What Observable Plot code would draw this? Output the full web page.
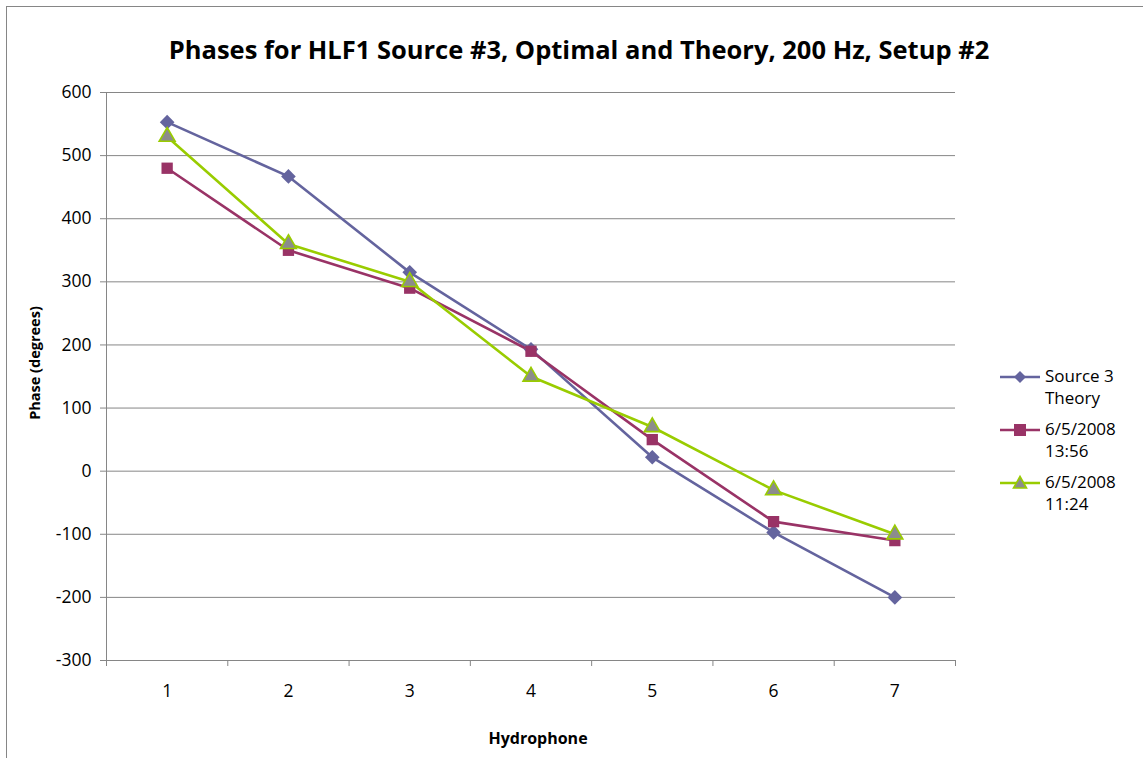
<!DOCTYPE html>
<html><head><meta charset="utf-8">
<script src="https://cdn.jsdelivr.net/npm/d3@7"></script>
<script src="https://cdn.jsdelivr.net/npm/@observablehq/plot@0.6"></script>
<style>
body{margin:0;background:#fff;font-family:"Open Sans",Lato,sans-serif;}
#wrap{position:relative;width:1143px;height:758px;overflow:hidden;}
#frame{position:absolute;left:6px;top:6px;width:1160px;height:780px;border:1px solid #868686;box-sizing:border-box;}
#title{position:absolute;left:579px;top:49px;transform:translate(-50%,-50%);white-space:nowrap;font-weight:bold;font-size:25.5px;color:#000;}
#ylab{position:absolute;left:34px;top:363px;transform:translate(-50%,-50%) rotate(-90deg);font-weight:bold;font-size:14.5px;white-space:nowrap;}
#xlab{position:absolute;left:538px;top:738px;transform:translate(-50%,-50%);font-weight:bold;font-size:16px;white-space:nowrap;}
#legend{position:absolute;left:1000px;top:365px;font-size:17px;color:#000;}
.item{display:flex;align-items:flex-start;margin-bottom:9px;line-height:22px;}
.item svg{margin-right:5px;margin-top:1px;}
svg.plot{position:absolute;left:0;top:0;}
</style></head><body>
<div id="wrap"><div id="frame"></div><div id="title"></div><div id="ylab"></div><div id="xlab"></div><div id="legend"></div></div>
<script>
const hydrophones = [1, 2, 3, 4, 5, 6, 7];
const seriesNames = ["Source 3 Theory", "6/5/2008 13:56", "6/5/2008 11:24"];
const legendLines = [["Source 3", "Theory"], ["6/5/2008", "13:56"], ["6/5/2008", "11:24"]];
const theory = [553, 467, 315, 193, 22, -97, -200];
const run1356 = [480, 350, 290, 190, 50, -80, -110];
const run1124 = [530, 360, 300, 150, 70, -30, -100];
const yTicks = [-300, -200, -100, 0, 100, 200, 300, 400, 500, 600];
const xBounds = [0.5, 1.5, 2.5, 3.5, 4.5, 5.5, 6.5, 7.5];
const titleText = "Phases for HLF1 Source #3, Optimal and Theory, 200 Hz, Setup #2";
const yTitle = "Phase (degrees)";
const xTitle = "Hydrophone";

const colors = ["#64649E", "#993366", "#99CC00"];
const symbols = ["diamond2", "square2", "triangle2"];
const fills = ["#64649E", "#993366", "#8C8C8C"];
const sizes = [6.6, 7.2, 7.6];

const allSeries = [theory, run1356, run1124];
const rows = [];
allSeries.forEach((vals, si) => vals.forEach((v, i) => rows.push({s: seriesNames[si], si, x: hydrophones[i], y: v})));

const marks = [
  Plot.gridY(yTicks, {stroke: "#868686", strokeOpacity: 1}),
  Plot.ruleX([0.5], {stroke: "#868686"}),
  Plot.ruleY([-300], {stroke: "#868686"}),
  Plot.axisY(yTicks, {tickSize: 6, tickPadding: 9, fontSize: 17.5, label: null, stroke: "#868686", color: "#000", tickFormat: d => String(d)}),
  Plot.axisX(xBounds, {tickSize: 6, tickFormat: () => "", label: null, stroke: "#868686"}),
  Plot.axisX(hydrophones, {tickSize: 0, tickPadding: 24, fontSize: 17.5, label: null, tickFormat: d => String(d)}),
];
seriesNames.forEach((name, si) => {
  const data = rows.filter(r => r.si === si);
  marks.push(Plot.line(data, {x: "x", y: "y", stroke: colors[si], strokeWidth: 2.6}));
});
seriesNames.forEach((name, si) => {
  const data = rows.filter(r => r.si === si);
  marks.push(Plot.dot(data, {x: "x", y: "y", symbol: () => symbols[si], r: sizes[si], fill: fills[si], stroke: si === 2 ? colors[2] : "none", strokeWidth: 1.6}));
});

const chart = Plot.plot({
  width: 1143, height: 758,
  marginLeft: 106, marginRight: 188, marginTop: 92, marginBottom: 98,
  x: {domain: [0.5, 7.5], axis: null},
  y: {domain: [-300, 600], axis: null},
  symbol: {type: "identity"},
  style: {fontFamily: "'Open Sans', Lato, sans-serif", fontSize: "17.5px", background: "transparent", color: "#000"},
  marks
});
document.getElementById("wrap").appendChild(chart);
document.getElementById("title").textContent = titleText;
document.getElementById("ylab").textContent = yTitle;
document.getElementById("xlab").textContent = xTitle;

const lg = document.getElementById("legend");
const symPaths = [
  "M20,5 L26,11 L20,17 L14,11 Z",
  "M14,5 H26 V17 H14 Z",
  "M20,4.5 L26.5,16 L13.5,16 Z"
];
seriesNames.forEach((name, si) => {
  const it = document.createElement("div");
  it.className = "item";
  const ns = "http://www.w3.org/2000/svg";
  const s = document.createElementNS(ns, "svg");
  s.setAttribute("width", 40); s.setAttribute("height", 22);
  const l = document.createElementNS(ns, "line");
  l.setAttribute("x1", 0); l.setAttribute("x2", 40); l.setAttribute("y1", 11); l.setAttribute("y2", 11);
  l.setAttribute("stroke", colors[si]); l.setAttribute("stroke-width", 2.6);
  s.appendChild(l);
  const p = document.createElementNS(ns, "path");
  p.setAttribute("d", symPaths[si]);
  p.setAttribute("fill", fills[si]);
  if (si === 2) { p.setAttribute("stroke", colors[2]); p.setAttribute("stroke-width", 1.6); }
  s.appendChild(p);
  it.appendChild(s);
  const t = document.createElement("div");
  t.innerHTML = legendLines[si].join("<br>");
  it.appendChild(t);
  lg.appendChild(it);
});
</script>
</body></html>
